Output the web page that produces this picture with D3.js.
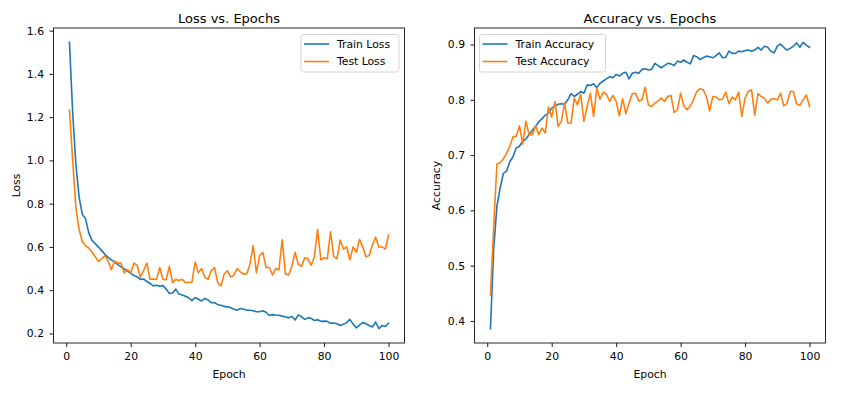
<!DOCTYPE html>
<html><head><meta charset="utf-8">
<script src="https://cdn.jsdelivr.net/npm/d3@7"></script>
<style>
html,body{margin:0;padding:0;background:#fff;}
text{font-family:"DejaVu Sans",sans-serif;fill:#000;}
</style></head>
<body><svg id="c" width="861" height="398"></svg>
<script>
const epochs = d3.range(1, 101);
const trainLoss = [1.546,1.22,0.98,0.83,0.75,0.73,0.665,0.63,0.615,0.60,
0.583,0.566,0.552,0.54,0.53,0.518,0.508,0.498,0.488,0.478,
0.468,0.462,0.45,0.452,0.44,0.432,0.42,0.423,0.418,0.422,
0.405,0.385,0.387,0.405,0.382,0.378,0.372,0.365,0.352,0.366,
0.358,0.35,0.362,0.355,0.342,0.343,0.333,0.33,0.325,0.323,
0.32,0.312,0.307,0.315,0.312,0.308,0.307,0.305,0.30,0.30,
0.305,0.298,0.283,0.287,0.285,0.284,0.28,0.277,0.272,0.278,
0.262,0.286,0.278,0.265,0.272,0.27,0.26,0.263,0.256,0.257,
0.256,0.247,0.248,0.245,0.237,0.242,0.25,0.265,0.243,0.226,
0.238,0.25,0.245,0.237,0.23,0.253,0.222,0.237,0.232,0.247];
const testLoss = [1.233,1.0,0.78,0.68,0.625,0.605,0.595,0.575,0.555,0.532,
0.545,0.56,0.535,0.495,0.535,0.525,0.525,0.48,0.495,0.48,
0.525,0.515,0.46,0.49,0.525,0.45,0.452,0.45,0.505,0.45,
0.448,0.51,0.435,0.45,0.445,0.45,0.435,0.437,0.437,0.53,
0.48,0.5,0.46,0.45,0.49,0.505,0.435,0.42,0.475,0.49,
0.46,0.47,0.5,0.485,0.475,0.475,0.52,0.606,0.48,0.56,
0.575,0.505,0.505,0.47,0.5,0.495,0.633,0.475,0.47,0.51,
0.575,0.52,0.51,0.55,0.545,0.515,0.555,0.68,0.54,0.55,
0.545,0.67,0.555,0.545,0.632,0.59,0.6,0.54,0.6,0.575,
0.635,0.6,0.555,0.56,0.61,0.645,0.6,0.6,0.59,0.655];
const trainAcc = [0.386,0.53,0.607,0.64,0.667,0.671,0.688,0.697,0.713,0.716,
0.725,0.729,0.737,0.745,0.752,0.76,0.766,0.772,0.776,0.785,
0.789,0.792,0.793,0.792,0.8,0.811,0.806,0.81,0.815,0.812,
0.827,0.826,0.829,0.822,0.83,0.834,0.838,0.842,0.84,0.846,
0.843,0.848,0.85,0.838,0.848,0.85,0.848,0.855,0.856,0.854,
0.855,0.866,0.862,0.858,0.862,0.866,0.865,0.862,0.87,0.868,
0.872,0.868,0.865,0.88,0.878,0.873,0.876,0.879,0.878,0.876,
0.88,0.885,0.876,0.877,0.888,0.884,0.884,0.888,0.887,0.889,
0.89,0.888,0.89,0.895,0.89,0.897,0.895,0.888,0.885,0.897,
0.901,0.895,0.89,0.893,0.897,0.903,0.895,0.904,0.899,0.895];
const testAcc = [0.447,0.57,0.684,0.686,0.693,0.703,0.716,0.733,0.734,0.753,
0.72,0.761,0.737,0.737,0.753,0.737,0.749,0.74,0.787,0.769,
0.797,0.752,0.761,0.794,0.758,0.758,0.803,0.791,0.81,0.761,
0.788,0.812,0.77,0.821,0.801,0.814,0.81,0.797,0.808,0.797,
0.771,0.802,0.775,0.794,0.811,0.812,0.798,0.8,0.823,0.791,
0.788,0.794,0.798,0.803,0.797,0.806,0.808,0.777,0.782,0.812,
0.789,0.782,0.789,0.8,0.815,0.82,0.818,0.806,0.78,0.806,
0.805,0.8,0.801,0.814,0.793,0.805,0.8,0.814,0.77,0.803,
0.815,0.818,0.772,0.811,0.806,0.803,0.794,0.801,0.802,0.8,
0.812,0.789,0.793,0.815,0.815,0.793,0.79,0.8,0.809,0.788];
const xTicks = [0,20,40,60,80,100];
const lossTicks = [0.2,0.4,0.6,0.8,1.0,1.2,1.4,1.6];
const accTicks = [0.4,0.5,0.6,0.7,0.8,0.9];
const colors = ["#1f77b4","#ff7f0e"];
const FS = 10.8;

const svg = d3.select("#c");

function panel(o){
  const g = svg.append("g");
  const xd = d3.extent(epochs), xm = (xd[1]-xd[0])*0.05;
  const all = o.series[0].concat(o.series[1]);
  const yd = d3.extent(all), ym = (yd[1]-yd[0])*0.05;
  const x = d3.scaleLinear().domain([xd[0]-xm, xd[1]+xm]).range([o.left, o.right]);
  const y = d3.scaleLinear().domain([yd[0]-ym, yd[1]+ym]).range([o.bottom, o.top]);

  const line = d3.line().x((d,i)=>x(epochs[i])).y(d=>y(d));
  o.series.forEach((s,k)=>{
    g.append("path").datum(s).attr("d", line).attr("fill","none")
      .attr("stroke", colors[k]).attr("stroke-width",1.6)
      .attr("stroke-linejoin","round").attr("stroke-linecap","square");
  });

  const xa = g.append("g").attr("transform",`translate(0,${o.bottom})`)
    .call(d3.axisBottom(x).tickValues(xTicks).tickFormat(d3.format("d")).tickSize(4).tickPadding(5).tickSizeOuter(0));
  const ya = g.append("g").attr("transform",`translate(${o.left},0)`)
    .call(d3.axisLeft(y).tickValues(o.ticks).tickFormat(d3.format(".1f")).tickSize(4).tickPadding(5.5).tickSizeOuter(0));
  [xa,ya].forEach(a=>{
    a.select(".domain").remove();
    a.selectAll("line").attr("stroke","#000").attr("stroke-width",0.9);
    a.selectAll("text").attr("font-size",FS).attr("font-family","DejaVu Sans").attr("fill","#1a1a1a");
  });

  g.append("rect").attr("x",o.left).attr("y",o.top)
    .attr("width",o.right-o.left).attr("height",o.bottom-o.top)
    .attr("fill","none").attr("stroke","#111").attr("stroke-width",0.9);

  g.append("text").attr("x",(o.left+o.right)/2).attr("y",o.top-5)
    .attr("text-anchor","middle").attr("font-size",13).text(o.title);
  g.append("text").attr("x",(o.left+o.right)/2).attr("y",o.bottom+35)
    .attr("text-anchor","middle").attr("font-size",FS).text("Epoch");
  g.append("text").attr("transform",`translate(${o.ylabX},${(o.top+o.bottom)/2}) rotate(-90)`)
    .attr("text-anchor","middle").attr("font-size",FS).text(o.ylabel);

  // legend
  const lg = g.append("g").attr("transform",`translate(${o.legX},${o.legY})`);
  lg.append("rect").attr("x",0).attr("y",0).attr("width",o.legW).attr("height",37.5)
    .attr("rx",2.5).attr("fill","#fff").attr("fill-opacity",0.8).attr("stroke","#d0d0d0").attr("stroke-width",0.9);
  o.names.forEach((n,k)=>{
    const yy = 9.5 + k*17.5;
    lg.append("line").attr("x1",3).attr("x2",28).attr("y1",yy).attr("y2",yy)
      .attr("stroke",colors[k]).attr("stroke-width",1.6);
    lg.append("text").attr("x",36).attr("y",yy+3.9).attr("font-size",FS).text(n);
  });
}

panel({left:53.5,right:404.5,top:28,bottom:343,series:[trainLoss,testLoss],ticks:lossTicks,
  title:"Loss vs. Epochs",ylabel:"Loss",ylabX:19.5,names:["Train Loss","Test Loss"],legX:301,legY:34.5,legW:98});
panel({left:474.5,right:825.5,top:28,bottom:343,series:[trainAcc,testAcc],ticks:accTicks,
  title:"Accuracy vs. Epochs",ylabel:"Accuracy",ylabX:439.5,names:["Train Accuracy","Test Accuracy"],legX:479.5,legY:34.5,legW:126});
</script></body></html>
